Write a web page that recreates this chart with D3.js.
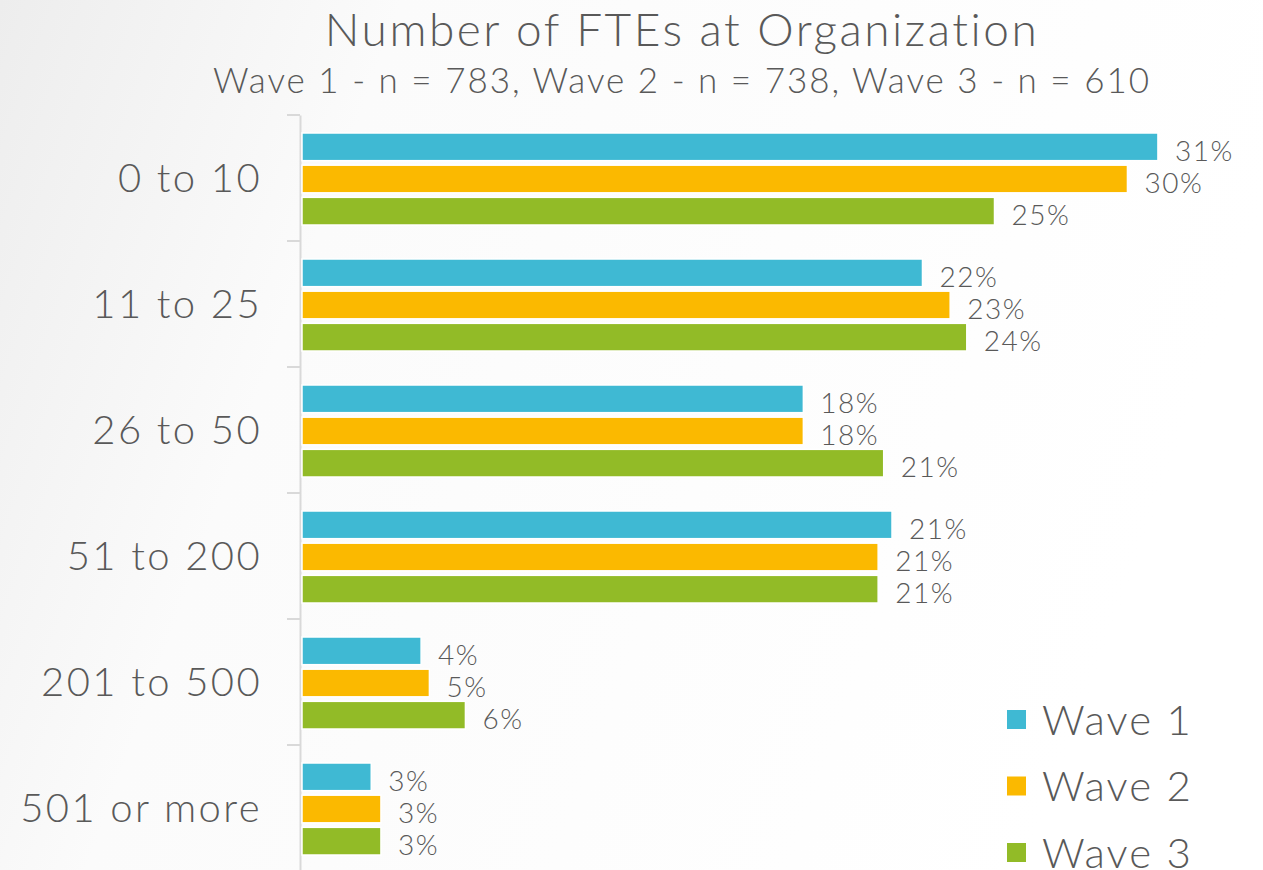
<!DOCTYPE html>
<html>
<head>
<meta charset="utf-8">
<script src="https://cdn.jsdelivr.net/npm/d3@7"></script>
<style>
  body { margin: 0; overflow: hidden; }
</style>
</head>
<body>
<div id="fte_chart"></div>
<script>
// ===== data =====
var categories = ["0 to 10", "11 to 25", "26 to 50", "51 to 200", "201 to 500", "501 or more"];
var waves = ["Wave 1", "Wave 2", "Wave 3"];
var wave1 = [30.9, 22.4, 18.1, 21.3, 4.3, 2.5];
var wave2 = [29.8, 23.4, 18.1, 20.8, 4.6, 2.85];
var wave3 = [25.0, 24.0, 21.0, 20.8, 5.9, 2.85];
var waveColors = ["#3fb9d3", "#fbb900", "#92bb27"];

var titleText = "Number of FTEs at Organization";
var subtitleText = "Wave 1 - n = 783, Wave 2 - n = 738, Wave 3 - n = 610";

// ===== NUMBER OF FTEs (GROUPED HORIZONTAL BARS) =====
function fte_bars()
{
  var w = 1263;
  var h = 870;
  var font = "'Lato', 'Open Sans', sans-serif";
  var grey = "#595959";

  var svg = d3.select("#fte_chart")
              .append("svg")
              .attr("width", w)
              .attr("height", h);

  // soft grey background on the left, white to the right
  var defs = svg.append("defs");
  var grad = defs.append("linearGradient")
                 .attr("id", "bg")
                 .attr("x1", "0").attr("y1", "0")
                 .attr("x2", "1").attr("y2", "0.25");
  grad.append("stop").attr("offset", "0%").attr("stop-color", "#ededed");
  grad.append("stop").attr("offset", "30%").attr("stop-color", "#fbfbfb");
  grad.append("stop").attr("offset", "100%").attr("stop-color", "#ffffff");

  svg.append("rect")
     .attr("width", w)
     .attr("height", h)
     .attr("fill", "url(#bg)");

  var rows = categories.map(function(c, i) {
    return {category: c, values: [wave1[i], wave2[i], wave3[i]]};
  });

  var x = d3.scaleLinear()
            .domain([0, 35])
            .range([302, 302 + 27.7 * 35]);

  var y = d3.scaleBand()
            .domain(categories)
            .range([115, 871]);

  var yInner = d3.scaleBand()
                 .domain(waves)
                 .range([18, 110])
                 .paddingInner(0.14);

  // axis line with ticks between the categories
  var axis = d3.axisLeft(y).tickSize(0).tickFormat("");
  svg.append("g")
     .attr("transform", "translate(300,0)")
     .call(axis)
     .call(function(g) {
       g.select(".domain").attr("stroke", "#d9d9d9").attr("stroke-width", 2);
     });

  svg.append("g")
     .selectAll("line")
     .data(categories)
     .enter()
     .append("line")
     .attr("x1", 287)
     .attr("x2", 300)
     .attr("y1", function(d) { return y(d); })
     .attr("y2", function(d) { return y(d); })
     .attr("stroke", "#d9d9d9")
     .attr("stroke-width", 2);

  // category labels
  svg.append("g")
     .selectAll("text")
     .data(categories)
     .enter()
     .append("text")
     .attr("x", 262)
     .attr("y", function(d) { return y(d) + y.bandwidth() / 2; })
     .attr("dy", "0.36em")
     .attr("text-anchor", "end")
     .attr("font-family", font)
     .attr("font-weight", 300)
     .attr("font-size", "40px")
     .attr("letter-spacing", "2.4px")
     .attr("fill", grey)
     .text(function(d) { return d; });

  var groups = svg.selectAll("g.row")
                  .data(rows)
                  .enter()
                  .append("g")
                  .attr("class", "row")
                  .attr("transform", function(d) { return "translate(0," + y(d.category) + ")"; });

  var cells = groups.selectAll("g.cell")
                    .data(function(d) {
                      return d.values.map(function(v, i) { return {wave: waves[i], value: v, idx: i}; });
                    })
                    .enter()
                    .append("g")
                    .attr("class", "cell");

  cells.append("rect")
       .attr("x", x(0))
       .attr("y", function(d) { return yInner(d.wave); })
       .attr("width", function(d) { return x(d.value) - x(0); })
       .attr("height", yInner.bandwidth())
       .attr("fill", function(d) { return waveColors[d.idx]; })
       .attr("stroke", "#ffffff")
       .attr("stroke-width", 1.5);

  cells.append("text")
       .attr("x", function(d) { return x(d.value) + 17; })
       .attr("y", function(d) { return yInner(d.wave) + yInner.bandwidth() / 2 + 4; })
       .attr("dy", "0.36em")
       .attr("font-family", font)
       .attr("font-weight", 300)
       .attr("font-size", "28px")
       .attr("letter-spacing", "1.5px")
       .attr("fill", grey)
       .text(function(d) { return Math.round(d.value) + "%"; });

  // titles
  svg.append("text")
     .attr("x", 682)
     .attr("y", 46)
     .attr("text-anchor", "middle")
     .attr("font-family", font)
     .attr("font-weight", 300)
     .attr("font-size", "46px")
     .attr("letter-spacing", "2.5px")
     .attr("fill", grey)
     .text(titleText);

  svg.append("text")
     .attr("x", 682)
     .attr("y", 93)
     .attr("text-anchor", "middle")
     .attr("font-family", font)
     .attr("font-weight", 300)
     .attr("font-size", "35px")
     .attr("letter-spacing", "2px")
     .attr("fill", grey)
     .text(subtitleText);

  // legend
  var legend = svg.selectAll("g.legend")
                  .data(waves)
                  .enter()
                  .append("g")
                  .attr("class", "legend")
                  .attr("transform", function(d, i) { return "translate(1007," + (710 + i * 66.5) + ")"; });

  legend.append("rect")
        .attr("width", 19)
        .attr("height", 19)
        .attr("fill", function(d, i) { return waveColors[i]; });

  legend.append("text")
        .attr("x", 35)
        .attr("y", 9.5)
        .attr("dy", "0.36em")
        .attr("font-family", font)
        .attr("font-weight", 300)
        .attr("font-size", "42px")
        .attr("letter-spacing", "2px")
        .attr("fill", grey)
        .text(function(d) { return d; });
}

function init(){
    fte_bars();
}

window.onload = init
</script>
</body>
</html>
